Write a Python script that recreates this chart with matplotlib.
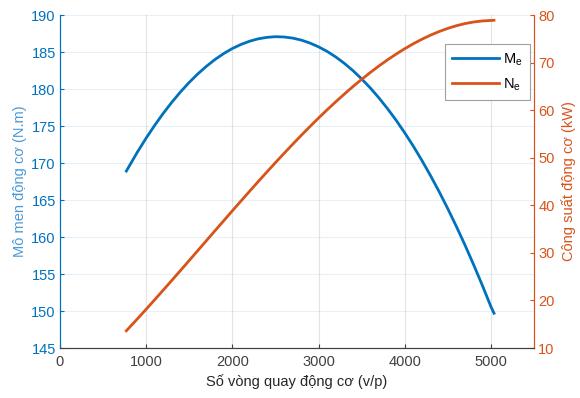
import matplotlib
matplotlib.use("Agg")
import matplotlib.pyplot as plt

plt.rcParams['font.family'] = ['Liberation Sans', 'DejaVu Sans']

# Engine speed (v/p)
speed = [770, 900, 1000, 1100, 1200, 1300, 1400, 1500, 1600, 1700, 1800, 1900,
         2000, 2100, 2200, 2300, 2400, 2500, 2600, 2700, 2800, 2900, 3000,
         3100, 3200, 3300, 3400, 3500, 3600, 3700, 3800, 3900, 4000, 4100,
         4200, 4300, 4400, 4500, 4600, 4700, 4800, 4900, 5000, 5036]
# Engine torque Me (N.m)
torque = [168.91, 171.51, 173.37, 175.11, 176.74, 178.24, 179.63, 180.90,
          182.05, 183.08, 184.00, 184.79, 185.47, 186.02, 186.46, 186.78,
          186.98, 187.07, 187.03, 186.88, 186.61, 186.21, 185.70, 185.08,
          184.33, 183.46, 182.48, 181.37, 180.15, 178.81, 177.35, 175.78,
          174.08, 172.27, 170.33, 168.28, 166.11, 163.82, 161.41, 158.89,
          156.24, 153.48, 150.60, 149.70]
# Engine power Ne (kW)
power = [13.62, 16.16, 18.15, 20.17, 22.21, 24.26, 26.33, 28.41, 30.50, 32.59,
         34.68, 36.76, 38.84, 40.90, 42.95, 44.98, 46.99, 48.97, 50.92, 52.83,
         54.71, 56.55, 58.34, 60.08, 61.76, 63.39, 64.97, 66.47, 67.91, 69.28,
         70.57, 71.78, 72.91, 73.96, 74.91, 75.77, 76.53, 77.19, 77.75, 78.20,
         78.53, 78.75, 78.85, 78.89]

x_ticks = [0, 1000, 2000, 3000, 4000, 5000]
left_ticks = [145, 150, 155, 160, 165, 170, 175, 180, 185, 190]
right_ticks = [10, 20, 30, 40, 50, 60, 70, 80]

BLUE = '#0072BD'
ORANGE = '#D95319'
GRAY = '#404040'

fig = plt.figure(figsize=(5.8, 3.98), dpi=100)
ax = fig.add_axes([0.1034, 0.1256, 0.8173, 0.8367])
ax2 = ax.twinx()

l1, = ax.plot(speed, torque, color=BLUE, lw=2.0, label=r'$\mathregular{M_e}$')
l2, = ax2.plot(speed, power, color=ORANGE, lw=2.0, label=r'$\mathregular{N_e}$')

ax.set_xlim(0, 5500)
ax.set_ylim(145, 190)
ax2.set_ylim(10, 80)
ax.set_xticks(x_ticks)
ax.set_yticks(left_ticks)
ax2.set_yticks(right_ticks)

fs = 10.5
ax.tick_params(axis='x', direction='in', length=3, colors=GRAY, labelsize=fs, pad=5)
ax.tick_params(axis='y', direction='in', length=3, colors=BLUE, labelsize=fs, pad=3)
ax2.tick_params(axis='y', direction='in', length=3, colors=ORANGE, labelsize=fs, pad=3)

for a in (ax, ax2):
    a.spines['top'].set_visible(False)
    a.spines['left'].set_color(BLUE)
    a.spines['right'].set_color(ORANGE)
    a.spines['bottom'].set_color(GRAY)
    for s in a.spines.values():
        s.set_linewidth(0.8)

ax.grid(axis='y', color=BLUE, alpha=0.1, lw=0.8)
ax.grid(axis='x', color='#262626', alpha=0.12, lw=0.8)
ax.set_axisbelow(True)

ax.set_xlabel('Số vòng quay động cơ (v/p)', fontsize=fs, color='#262626', labelpad=4)
ax.set_ylabel('Mô men động cơ (N.m)', fontsize=fs, color='#4a9ad6', labelpad=3)
ax2.set_ylabel('Công suất động cơ (kW)', fontsize=fs, color=ORANGE, labelpad=5)

leg = ax2.legend(handles=[l1, l2], loc='upper right', bbox_to_anchor=(0.992, 0.913),
                 fontsize=fs, frameon=True, fancybox=False, framealpha=1,
                 edgecolor='#a0a0a0', handlelength=3.2, borderpad=0.5,
                 labelspacing=0.6, handletextpad=0.3, borderaxespad=0)
leg.get_frame().set_linewidth(0.8)

fig.savefig('out.png', dpi=100)
